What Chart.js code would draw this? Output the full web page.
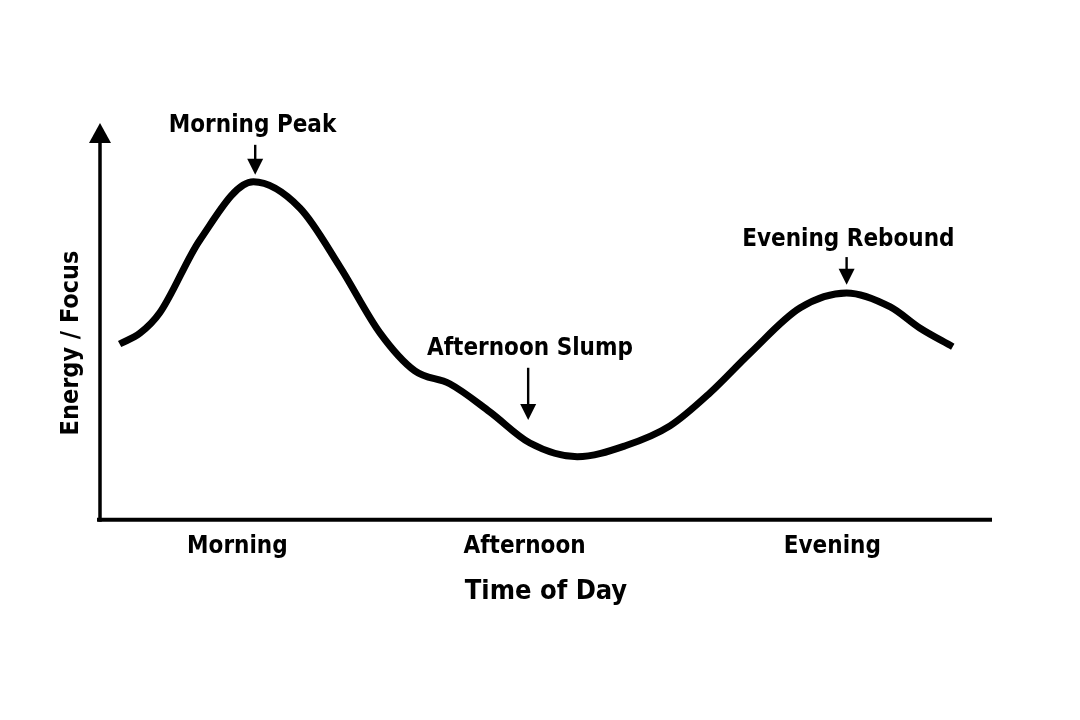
<!DOCTYPE html>
<html>
<head>
<meta charset="utf-8">
<script src="https://cdn.jsdelivr.net/npm/chart.js@4.4.1/dist/chart.umd.min.js"></script>
<style>
    html, body { margin: 0; padding: 0; background: #fff; }
    #wrap { width: 1080px; height: 720px; }
</style>
</head>
<body>
<div id="wrap"><canvas id="energyChart"></canvas></div>
<script>
// Curve: x runs 0-100 across the day, y is energy 0-100
const timeX  = [2.2, 4.5, 6.7, 11.2, 17.2, 22.4, 26.9, 31.4, 35.3, 39.2, 43.7,
                48.2, 53.5, 58.9, 63.9, 68.4, 72.9, 78.5, 83.7, 88.6, 91.9, 95.6];
const energy = [45.1, 47.9, 53.1, 71.8, 86.7, 80.0, 64.9, 47.9, 38.2, 34.9, 27.7,
                19.7, 16.2, 19.0, 24.1, 32.6, 42.8, 54.4, 58.2, 54.6, 49.2, 44.4];

// x axis tick labels
const tickValues = [15.4, 47.6, 82.1];
const tickLabels = ['Morning', 'Afternoon', 'Evening'];

// callouts
const noteLabels = ['Morning Peak', 'Afternoon Slump', 'Evening Rebound'];

const FONT = "'DejaVu Sans Condensed', 'Liberation Sans Narrow', 'Noto Sans', sans-serif";
const WEIGHT = 'bold';

// where the callouts sit (data units)
const noteLayout = [
    { textX: 17.1, textY: 99.5, arrowX: 17.4, tail: 96.2, tip: 88.5 },
    { textX: 48.2, textY: 42.3, arrowX: 48.0, tail: 39.0, tip: 25.6 },
    { textX: 83.9, textY: 70.3, arrowX: 83.7, tail: 67.4, tip: 60.3 }
];

function arrowHead(ctx, x, tipY, w, h, dir) {
    ctx.beginPath();
    ctx.moveTo(x, tipY);
    ctx.lineTo(x - w / 2, tipY - dir * h);
    ctx.lineTo(x + w / 2, tipY - dir * h);
    ctx.closePath();
    ctx.fill();
}

const sketchAxes = {
    id: 'sketchAxes',
    afterDatasetsDraw(chart) {
        const { ctx, chartArea: a, scales: { x, y } } = chart;
        ctx.save();
        ctx.strokeStyle = '#000';
        ctx.fillStyle = '#000';

        // x axis
        ctx.lineWidth = 4;
        ctx.beginPath();
        ctx.moveTo(a.left - 3, a.bottom);
        ctx.lineTo(a.right, a.bottom);
        ctx.stroke();

        // y axis with arrow
        ctx.lineWidth = 3.5;
        ctx.beginPath();
        ctx.moveTo(a.left, a.bottom + 2);
        ctx.lineTo(a.left, a.top + 10);
        ctx.stroke();
        arrowHead(ctx, a.left, a.top - 7, 22, 20, -1);

        // y title
        ctx.save();
        ctx.translate(71, 343);
        ctx.rotate(-Math.PI / 2);
        ctx.font = WEIGHT + ' 25px ' + FONT;
        ctx.textAlign = 'center';
        ctx.textBaseline = 'middle';
        ctx.fillText('Energy / Focus', 0, 0);
        ctx.restore();

        // callouts
        ctx.font = WEIGHT + ' 24px ' + FONT;
        ctx.textAlign = 'center';
        ctx.textBaseline = 'alphabetic';
        ctx.lineWidth = 2.4;
        noteLabels.forEach(function(label, i) {
            const n = noteLayout[i];
            ctx.fillText(label, x.getPixelForValue(n.textX), y.getPixelForValue(n.textY));
            const ax = x.getPixelForValue(n.arrowX);
            const tip = y.getPixelForValue(n.tip);
            ctx.beginPath();
            ctx.moveTo(ax, y.getPixelForValue(n.tail));
            ctx.lineTo(ax, tip - 12);
            ctx.stroke();
            arrowHead(ctx, ax, tip, 16, 16, 1);
        });
        ctx.restore();
    }
};

const ctx = document.getElementById('energyChart').getContext('2d');
const energyChart = new Chart(ctx, {
    type: 'line',
    data: {
        datasets: [{
            data: timeX.map(function(t, i) { return { x: t, y: energy[i] }; }),
            borderColor: '#000',
            borderWidth: 7,
            borderCapStyle: 'butt',
            borderJoinStyle: 'round',
            pointRadius: 0,
            fill: false,
            cubicInterpolationMode: 'monotone'
        }]
    },
    options: {
        responsive: true,
        maintainAspectRatio: false,
        animation: false,
        devicePixelRatio: 1,
        layout: {
            padding: { left: 100, right: 88, top: 130, bottom: 112 }
        },
        plugins: {
            legend: { display: false },
            tooltip: { enabled: false }
        },
        scales: {
            x: {
                type: 'linear',
                min: 0,
                max: 100,
                grid: { display: false, drawTicks: false },
                border: { display: false },
                afterBuildTicks: function(axis) {
                    axis.ticks = tickValues.map(function(v) { return { value: v }; });
                },
                ticks: {
                    autoSkip: false,
                    maxRotation: 0,
                    padding: 12.5,
                    color: '#000',
                    font: { family: FONT, size: 24, weight: WEIGHT },
                    callback: function(value) {
                        const i = tickValues.indexOf(value);
                        return i >= 0 ? tickLabels[i] : '';
                    }
                },
                title: {
                    display: true,
                    text: 'Time of Day',
                    color: '#000',
                    font: { family: FONT, size: 27, weight: WEIGHT },
                    padding: { top: 2, bottom: 0 }
                }
            },
            y: {
                display: false,
                min: 0,
                max: 100
            }
        }
    },
    plugins: [sketchAxes]
});
</script>
</body>
</html>
